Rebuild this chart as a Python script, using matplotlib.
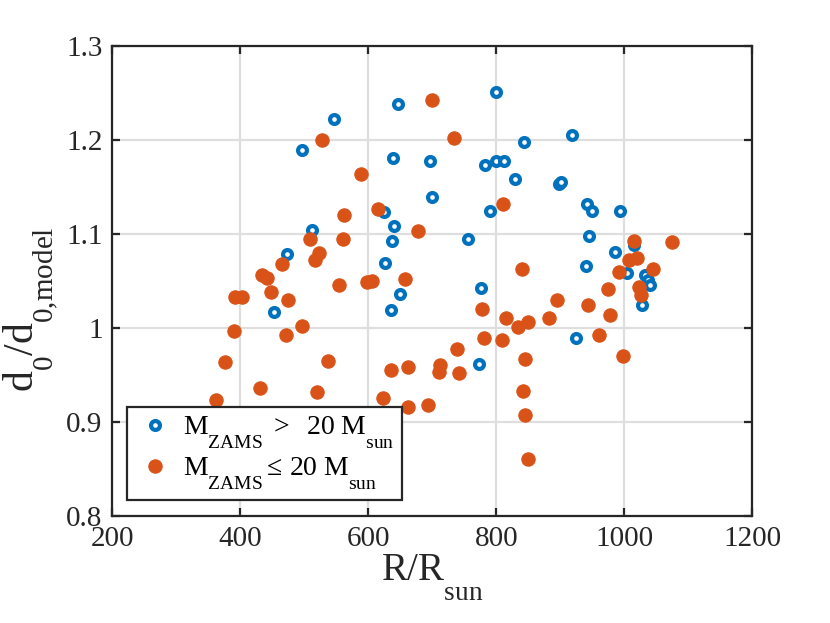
import matplotlib
matplotlib.use("Agg")
import matplotlib.pyplot as plt
from matplotlib.ticker import FuncFormatter

# lower the subscripts a bit more, the way MATLAB's tex interpreter does
try:
    import matplotlib._mathtext as _mt
    _mt.FontConstantsBase.sub1 = 1.1
except Exception:
    pass

# M_ZAMS > 20 M_sun (open blue circles)
hi_r = [546.9, 496, 646.4, 639, 696.9, 699.5, 624.5, 639.7, 637, 511.5,
        473, 625.6, 649, 452, 635, 799.5, 843.8, 917.8, 782.3, 799.5,
        811.5, 829.7, 898.4, 901, 790, 942.2, 950, 993.7, 755.3, 945.3,
        985.5, 1014.7, 940, 1004, 775.6, 1032, 1037, 1040, 1027, 773.5, 924]
hi_d = [1.222, 1.189, 1.238, 1.181, 1.178, 1.139, 1.123, 1.1085, 1.093, 1.104,
        1.079, 1.069, 1.036, 1.017, 1.019, 1.251, 1.198, 1.205, 1.173, 1.178,
        1.178, 1.159, 1.153, 1.155, 1.1245, 1.1316, 1.1245, 1.1245, 1.095, 1.098,
        1.0805, 1.088, 1.066, 1.058, 1.043, 1.056, 1.051, 1.046, 1.0245, 0.962, 0.989]

# M_ZAMS <= 20 M_sun (filled orange circles)
lo_r = [699, 528, 588, 615.6, 562.5, 678, 509.4, 560.5, 523, 517,
        465, 433.4, 442.4, 553.7, 598.4, 606.3, 657.3, 391.7, 402, 447.5,
        475, 389.7, 471, 496, 375.6, 537.5, 431.3, 519.4, 361.6, 635,
        662.5, 623.4, 662.5, 693.7, 712, 711, 739, 741.7, 778, 780.8,
        808.4, 815, 833.4, 850, 882.3, 894.4, 845.3, 841.3, 845.3, 850,
        942.7, 977.7, 961, 998.4, 734, 810, 840.6, 975, 1014.7, 1075,
        1007, 1019.4, 1044.4, 991.2, 1023.5, 1025.6]
lo_d = [1.243, 1.2, 1.164, 1.127, 1.12, 1.1035, 1.095, 1.095, 1.0795, 1.0723,
        1.068, 1.056, 1.053, 1.046, 1.049, 1.05, 1.052, 1.033, 1.033, 1.038,
        1.030, 0.997, 0.993, 1.0025, 0.9635, 0.965, 0.9365, 0.932, 0.923, 0.955,
        0.959, 0.926, 0.916, 0.918, 0.9606, 0.953, 0.978, 0.952, 1.020, 0.989,
        0.987, 1.011, 1.001, 1.006, 1.011, 1.030, 0.967, 0.933, 0.907, 0.861,
        1.025, 1.014, 0.993, 0.970, 1.202, 1.132, 1.063, 1.042, 1.093, 1.091,
        1.072, 1.074, 1.063, 1.060, 1.044, 1.035]

x_ticks = [200, 400, 600, 800, 1000, 1200]
y_ticks = [0.8, 0.9, 1.0, 1.1, 1.2, 1.3]

plt.rcParams['font.family'] = ['Liberation Serif', 'DejaVu Serif']
plt.rcParams['mathtext.fontset'] = 'custom'
plt.rcParams['mathtext.rm'] = 'Liberation Serif'
plt.rcParams['mathtext.it'] = 'Liberation Serif:italic'

blue = '#0072BD'
orange = '#D95319'
dark = '#262626'

fig = plt.figure(figsize=(8.3, 6.23), dpi=100)
ax = fig.add_axes([0.1353, 0.1717, 0.7711, 0.7545])

ax.plot(hi_r, hi_d, 'o', ls='none', mfc='white', mec=blue, mew=3.0, ms=6.4,
        label=r'$\mathrm{M_{ZAMS}}\ >\ \ 20\ \mathrm{M_{sun}}$', zorder=3)
ax.plot(lo_r, lo_d, 'o', ls='none', mfc=orange, mec=orange, mew=0.8, ms=9.6,
        label=r'$\mathrm{M_{ZAMS}} \leq\, 20\ \mathrm{M_{sun}}$', zorder=4)

ax.set_xlim(200, 1200)
ax.set_ylim(0.8, 1.3)
ax.set_xticks(x_ticks)
ax.set_yticks(y_ticks)
ax.yaxis.set_major_formatter(FuncFormatter(lambda v, p: '%g' % round(v, 2)))
ax.grid(True, color='#dedede', linewidth=1.6)
ax.set_axisbelow(True)

ax.tick_params(direction='in', length=6, width=1.6, colors=dark, labelsize=21,
               top=True, right=True, pad=7)
for s in ax.spines.values():
    s.set_linewidth(1.6)
    s.set_color(dark)

ax.set_xlabel(r'$\mathrm{R/R_{sun}}$', fontsize=28, color=dark, labelpad=0)
ax.set_ylabel(r'$\mathrm{d_0/d_{0{,}model}}$', fontsize=30, color=dark)
ax.yaxis.set_label_coords(-0.08, 0.44)

leg = ax.legend(loc='lower left', bbox_to_anchor=(0.023, 0.034), borderaxespad=0,
                fontsize=20, frameon=True, fancybox=False, handletextpad=0.3,
                handlelength=1.4, borderpad=0.3, labelspacing=0.15)
leg.get_frame().set_edgecolor(dark)
leg.get_frame().set_linewidth(1.6)
leg.get_frame().set_alpha(1)

fig.savefig('out.png', dpi=100)
